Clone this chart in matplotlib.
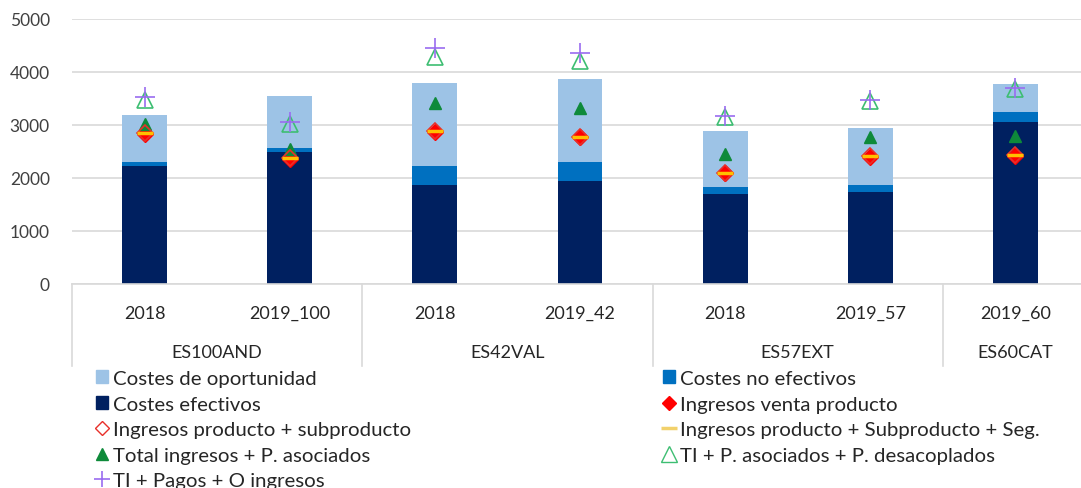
import matplotlib
matplotlib.use("Agg")
import matplotlib.pyplot as plt
import matplotlib.transforms as mtransforms
from matplotlib.lines import Line2D
from matplotlib.patches import Patch
import numpy as np

plt.rcParams['font.family'] = ['Lato', 'DejaVu Sans']

# --- data ---
years = ['2018', '2019_100', '2018', '2019_42', '2018', '2019_57', '2019_60']
groups = ['ES100AND', 'ES42VAL', 'ES57EXT', 'ES60CAT']
group_sizes = [2, 2, 2, 1]

costes_efectivos = [2230, 2500, 1870, 1940, 1700, 1740, 3050]
costes_no_efectivos = [75, 70, 360, 360, 130, 135, 190]
costes_oportunidad = [885, 970, 1570, 1570, 1060, 1075, 530]

ingresos_venta = [2830, 2360, 2870, 2770, 2090, 2400, 2420]
ingresos_prod_sub = [2840, 2370, 2880, 2780, 2100, 2410, 2430]
ingresos_prod_sub_seg = [2850, 2370, 2880, 2780, 2100, 2410, 2430]
total_ingresos_pa = [3010, 2540, 3420, 3320, 2460, 2780, 2790]
ti_pa_desacoplados = [3480, 3020, 4280, 4210, 3150, 3460, 3670]
ti_pagos_otros = [3520, 3050, 4450, 4350, 3170, 3480, 3700]

c_light = '#9DC3E6'
c_mid = '#0070C0'
c_dark = '#002060'

fig = plt.figure(figsize=(10.81, 4.89), dpi=100)
ax = fig.add_axes([72 / 1081, 1 - 285 / 489, 1016 / 1081, 265 / 489])

x = np.arange(len(years))
w = 0.31
ef = np.array(costes_efectivos)
nef = np.array(costes_no_efectivos)
op = np.array(costes_oportunidad)
ax.bar(x, ef, w, color=c_dark, zorder=2)
ax.bar(x, nef, w, bottom=ef, color=c_mid, zorder=2)
ax.bar(x, op, w, bottom=ef + nef, color=c_light, zorder=2)

ax.plot(x, ingresos_venta, 'D', color='#FF0000', ms=8, ls='none', zorder=3)
ax.plot(x, ingresos_prod_sub, 'D', mfc='none', mec='#E8302A', mew=1.2, ms=8, ls='none', zorder=4)
ax.plot(x, ingresos_prod_sub_seg, '_', color='#FFC000', ms=12, mew=2.5, ls='none', zorder=5)
ax.plot(x, total_ingresos_pa, '^', color='#0E8A3A', ms=9, ls='none', zorder=3)
ax.plot(x, ti_pa_desacoplados, '^', mfc='none', mec='#3DBE72', mew=1.2, ms=12, ls='none', zorder=3)
ax.plot(x, ti_pagos_otros, '+', color='#9A6CF0', ms=14, mew=1.2, ls='none', zorder=4)

ax.set_xlim(-0.5, len(years) - 0.5)
ax.set_ylim(0, 5000)
ax.set_yticks(range(0, 5001, 1000))
ax.tick_params(axis='y', length=0, labelsize=12.5, colors='#404040', pad=16)
ax.yaxis.grid(True, color='#D9D9D9', lw=1.2, zorder=0)
ax.set_xticks([])
for s in ['top', 'right', 'left']:
    ax.spines[s].set_visible(False)
ax.spines['bottom'].set_color('#D9D9D9')
ax.spines['bottom'].set_linewidth(1.2)

# two-level category axis
trans = mtransforms.blended_transform_factory(ax.transData, ax.transAxes)
for xi, lab in zip(x, years):
    ax.text(xi, -0.11, lab, transform=trans, ha='center', va='center',
            fontsize=13, color='#262626')
start = 0
bounds = [-0.5]
for g, n in zip(groups, group_sizes):
    mid = start + (n - 1) / 2
    ax.text(mid, -0.255, g, transform=trans, ha='center', va='center',
            fontsize=13, color='#262626')
    start += n
    bounds.append(start - 0.5)
for b in bounds:
    ax.plot([b, b], [0, -0.31], transform=trans, color='#D9D9D9', lw=1.2, clip_on=False)

# legend in two blocks
h_col1 = [
    Patch(color=c_light),
    Patch(color=c_dark),
    Line2D([], [], marker='D', mfc='none', mec='#E8302A', ls='none', ms=7),
    Line2D([], [], marker='^', color='#0E8A3A', ls='none', ms=8),
    Line2D([], [], marker='+', color='#9A6CF0', ls='none', ms=12, mew=1.2),
]
l_col1 = ['Costes de oportunidad', 'Costes efectivos', 'Ingresos producto + subproducto',
          'Total ingresos + P. asociados', 'TI + Pagos + O ingresos']
h_col2 = [
    Patch(color=c_mid),
    Line2D([], [], marker='D', color='#FF0000', ls='none', ms=7),
    Line2D([], [], marker='_', color='#F2D16B', ls='none', ms=12, mew=2.5),
    Line2D([], [], marker='^', mfc='none', mec='#3DBE72', ls='none', ms=11),
]
l_col2 = ['Costes no efectivos', 'Ingresos venta producto',
          'Ingresos producto + Subproducto + Seg.', 'TI + P. asociados + P. desacoplados']

common = dict(frameon=False, fontsize=14.7, handlelength=0.6, handleheight=0.6,
              handletextpad=0.25, labelspacing=0.42, borderpad=0, borderaxespad=0,
              loc='upper left')
leg1 = fig.legend(h_col1, l_col1, bbox_to_anchor=(96 / 1081, 1 - 371 / 489), **common)
leg2 = fig.legend(h_col2, l_col2, bbox_to_anchor=(663 / 1081, 1 - 371 / 489), **common)
for leg in (leg1, leg2):
    for t in leg.get_texts():
        t.set_color('#262626')

fig.savefig('out.png', dpi=100)
